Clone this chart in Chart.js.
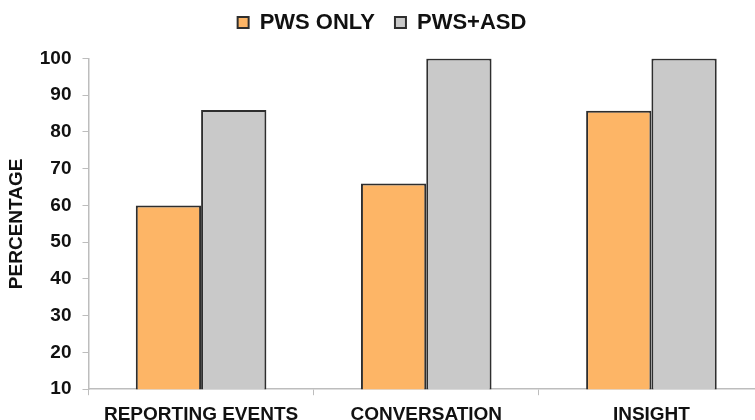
<!DOCTYPE html>
<html>
<head>
<meta charset="utf-8">
<script src="https://cdn.jsdelivr.net/npm/chart.js@4/dist/chart.umd.min.js"></script>
<style>
  html, body { margin: 0; padding: 0; background: #fff; overflow: hidden; }
  #wrap { position: absolute; left: 0; top: 0; width: 775px; height: 434px; }
</style>
</head>
<body>
<div id="wrap"><canvas id="chart" width="775" height="434"></canvas></div>
<script>
// Share of children showing each ability, by group
const categories = ['REPORTING EVENTS', 'CONVERSATION', 'INSIGHT'];
const pwsOnly = [60, 66, 85.8];
const pwsAsd = [86, 100, 100];
const seriesNames = ['PWS ONLY', 'PWS+ASD'];
const yTicks = [10, 20, 30, 40, 50, 60, 70, 80, 90, 100];

const FONT = '"Liberation Sans", Arial, Helvetica, sans-serif';
const AXIS_GREY = '#bdbdbd';

// Extra room under the legend before the plot starts
const legendGap = {
  id: 'legendGap',
  beforeInit(chart) {
    const fit = chart.legend.fit;
    chart.legend.fit = function () {
      fit.bind(chart.legend)();
      this.height += 15;
    };
  }
};

new Chart(document.getElementById('chart'), {
  type: 'bar',
  data: {
    labels: categories,
    datasets: [
      {
        label: seriesNames[0],
        data: pwsOnly,
        backgroundColor: '#FDB566',
        borderColor: '#2e2e2e',
        borderWidth: 2,
        borderSkipped: 'bottom'
      },
      {
        label: seriesNames[1],
        data: pwsAsd,
        backgroundColor: '#C9C9C9',
        borderColor: '#2e2e2e',
        borderWidth: 2,
        borderSkipped: 'bottom'
      }
    ]
  },
  plugins: [legendGap],
  options: {
    responsive: false,
    animation: false,
    layout: { padding: { top: -8.5, right: 11, bottom: 0, left: 0 } },
    datasets: {
      bar: { barPercentage: 1, categoryPercentage: 0.58 }
    },
    plugins: {
      tooltip: { enabled: false },
      legend: {
        position: 'top',
        labels: {
          boxWidth: 11,
          boxHeight: 11,
          padding: 20,
          color: '#111',
          font: { family: FONT, size: 22, weight: 'bold' }
        }
      }
    },
    scales: {
      x: {
        grid: {
          display: true,
          offset: true,
          drawOnChartArea: false,
          drawTicks: true,
          tickLength: 6,
          color: AXIS_GREY
        },
        border: { display: true, color: AXIS_GREY, width: 1.5 },
        ticks: {
          padding: 8,
          color: '#111',
          font: { family: FONT, size: 19, weight: 'bold' }
        }
      },
      y: {
        min: yTicks[0],
        max: yTicks[yTicks.length - 1],
        afterBuildTicks(scale) {
          scale.ticks = yTicks.map(v => ({ value: v }));
        },
        grid: {
          display: true,
          drawOnChartArea: false,
          drawTicks: true,
          tickLength: 6,
          color: AXIS_GREY
        },
        border: { display: true, color: AXIS_GREY, width: 1.5 },
        ticks: {
          padding: 11,
          color: '#111',
          font: { family: FONT, size: 19, weight: 'bold' }
        },
        title: {
          display: true,
          text: 'PERCENTAGE',
          color: '#111',
          padding: { top: 5, bottom: 1 },
          font: { family: FONT, size: 19, weight: 'bold' }
        }
      }
    }
  }
});
</script>
</body>
</html>
